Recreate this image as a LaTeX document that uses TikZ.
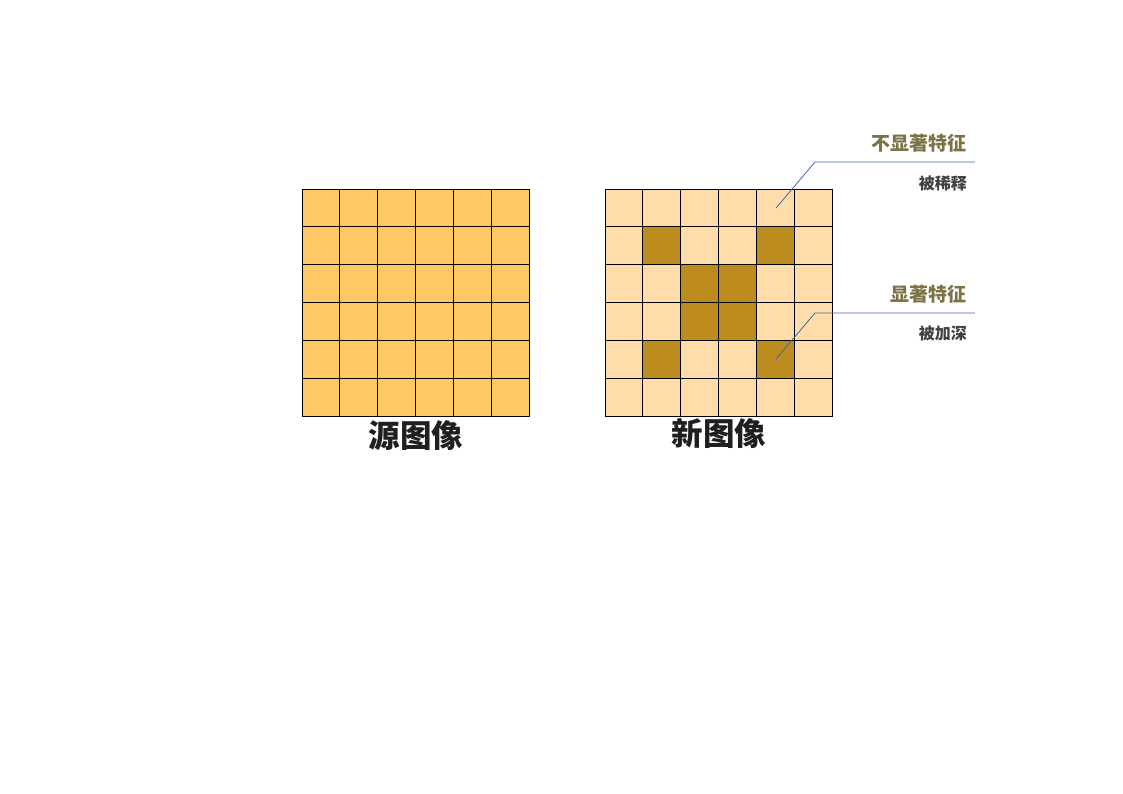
\documentclass[tikz,border=0pt]{standalone}
\usepackage{fontspec}
\newfontfamily\cjk{Noto Sans CJK SC}
\definecolor{srcfill}{RGB}{255,200,100}
\definecolor{lightfill}{RGB}{255,221,170}
\definecolor{darkfill}{RGB}{188,140,30}
\definecolor{olive}{RGB}{124,114,70}
\definecolor{subgray}{RGB}{64,64,64}
\definecolor{leader}{RGB}{68,100,180}
\begin{document}
\begin{tikzpicture}[x=1pt,y=-1pt,
  cell/.style={draw=black,line width=0.9pt},
  title/.style={font=\cjk\bfseries\fontsize{31.5}{31.5}\selectfont,text=black!88,inner sep=0pt},
  feat/.style={font=\cjk\bfseries\fontsize{19}{19}\selectfont,text=olive,inner sep=0pt,anchor=east},
  effect/.style={font=\cjk\bfseries\fontsize{16}{16}\selectfont,text=subgray,inner sep=0pt,anchor=east},
  leaderline/.style={draw=leader,line width=0.8pt}]
\useasboundingbox (0,0) rectangle (1123,794);
\def\cs{37.833}
% source grid
\foreach \r in {0,...,5}{\foreach \c in {0,...,5}{
  \filldraw[cell,fill=srcfill] (302+\c*\cs,189+\r*\cs) rectangle ++(\cs,\cs);}}
% new grid
\foreach \r in {0,...,5}{\foreach \c in {0,...,5}{
  \filldraw[cell,fill=lightfill] (605+\c*\cs,189+\r*\cs) rectangle ++(\cs,\cs);}}
\foreach \r/\c in {1/1,1/4,2/2,2/3,3/2,3/3,4/1,4/4}{
  \filldraw[cell,fill=darkfill] (605+\c*\cs,189+\r*\cs) rectangle ++(\cs,\cs);}
\node[title] (src) at (416,436) {源图像};
\node[title] (new) at (719,433) {新图像};
\node[feat] (f1) at (967,143) {不显著特征};
\node[effect] (e1) at (967,183) {被稀释};
\node[feat] (f2) at (967,294) {显著特征};
\node[effect] (e2) at (967,333) {被加深};
\coordinate (p1) at (776,208);
\coordinate (k1) at (815,162);
\coordinate (q1) at (975,162);
\coordinate (p2) at (776,359);
\coordinate (k2) at (815,313);
\coordinate (q2) at (975,313);
\draw[leaderline] (p1) -- (k1) -- (q1);
\draw[leaderline] (p2) -- (k2) -- (q2);
\end{tikzpicture}
\end{document}
